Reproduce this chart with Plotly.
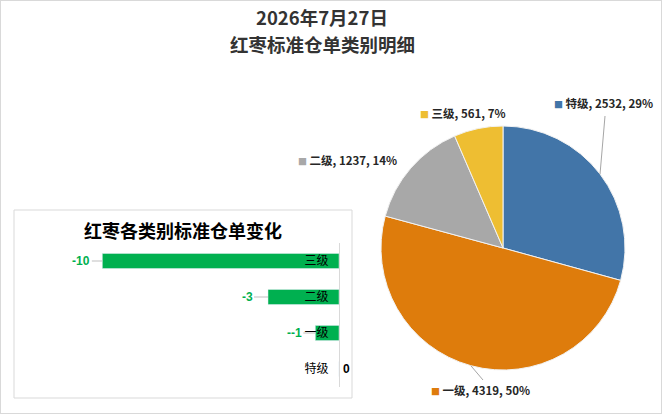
import math
import plotly.graph_objects as go

W, H = 662, 414

# pie data
pie_cats = ['特级', '一级', '二级', '三级']
pie_vals = [2532, 4319, 1237, 561]
pie_pcts = ['29%', '50%', '14%', '7%']
pie_colors = ['#4275A8', '#DE7C0C', '#A8A8A8', '#EEBE32']

# bar data (top to bottom)
bar_cats = ['三级', '二级', '一级', '特级']
bar_vals = [-10, -3, -1, 0]
bar_texts = ['-10', '-3', '--1', '0']

title_lines = ['2026年7月27日', '红枣标准仓单类别明细']
inset_title = '红枣各类别标准仓单变化'

FONT = 'Noto Sans CJK SC'
GREEN = '#00B050'


def px(x):
    return x / W


def py(y):
    return 1 - y / H


fig = go.Figure()

# pie: centre (503, 248), radius 122 in pixels
cx, cy, r = 503, 248, 122
fig.add_trace(go.Pie(
    labels=pie_cats, values=pie_vals, sort=False, direction='clockwise',
    marker=dict(colors=pie_colors, line=dict(color='#F2F2F2', width=1)),
    textinfo='none', hoverinfo='label+value+percent', showlegend=False,
    domain=dict(x=[px(cx - r), px(cx + r)], y=[py(cy + r), py(cy - r)]),
))

# bars
fig.add_trace(go.Bar(
    x=bar_vals, y=bar_cats, orientation='h', marker_color=GREEN,
    width=0.42, showlegend=False, hoverinfo='x+y',
))

fig.update_layout(
    width=W, height=H, margin=dict(l=0, r=0, t=0, b=0),
    paper_bgcolor='white', plot_bgcolor='white',
    font=dict(family=FONT, color='#000000'),
    xaxis=dict(domain=[px(55), px(339)], range=[-12, 0], showgrid=False,
               zeroline=False, showticklabels=False, showline=False, fixedrange=True),
    yaxis=dict(domain=[py(387), py(243)], side='right', showline=True,
               linecolor='#D9D9D9', linewidth=1, ticks='', showgrid=False,
               ticklabelposition='inside', ticklabelstandoff=10,
               categoryorder='array', categoryarray=bar_cats, autorange='reversed',
               tickfont=dict(size=12, color='#000000', family=FONT)),
)

ann = []
# main title, one annotation per line
for line, ty in zip(title_lines, [17, 44]):
    ann.append(dict(x=px(322), y=py(ty), xref='paper', yref='paper', showarrow=False,
                    xanchor='center', yanchor='middle', text=f'<b>{line}</b>',
                    font=dict(size=18.5, color='#333333', family=FONT)))
# inset title
ann.append(dict(x=px(183), y=py(230), xref='paper', yref='paper', showarrow=False,
                xanchor='center', yanchor='middle', text=f'<b>{inset_title}</b>',
                font=dict(size=18, color='#000000', family=FONT)))

# bar data labels
for c, v, t in zip(bar_cats, bar_vals, bar_texts):
    if v < 0:
        ann.append(dict(x=v, y=c, xref='x', yref='y', text=f'<b>{t}</b>', showarrow=True,
                        ax=-21, ay=0, arrowhead=0, arrowwidth=1, arrowcolor='#BFBFBF',
                        standoff=0, font=dict(size=12, color=GREEN, family='Liberation Sans')))
    else:
        ann.append(dict(x=v, y=c, xref='x', yref='y', text=f'<b>{t}</b>', showarrow=False,
                        xanchor='left', xshift=2,
                        font=dict(size=12, color='#000000', family='Liberation Sans')))

# pie labels (left edge x, centre y)
label_pos = {'特级': (552, 103), '三级': (418, 113), '二级': (296, 160), '一级': (429, 390)}
for c, v, p, col in zip(pie_cats, pie_vals, pie_pcts, pie_colors):
    lx, ly = label_pos[c]
    ann.append(dict(x=px(lx), y=py(ly), xref='paper', yref='paper', showarrow=False,
                    xanchor='left', yanchor='middle',
                    text=f"<span style='color:{col};font-size:9px'>■</span> <b>{c}, {v}, {p}</b>",
                    font=dict(size=11.5, color='#262626', family=FONT)))

fig.update_layout(annotations=ann)

# leader lines from slice edge to label
total = sum(pie_vals)
leader_end = {'特级': (605, 116), '一级': (483, 380)}
cum = 0
for c, v in zip(pie_cats, pie_vals):
    mid = (cum + v / 2) / total * 2 * math.pi
    cum += v
    if c in leader_end:
        ex, ey = cx + r * math.sin(mid), cy - r * math.cos(mid)
        lx, ly = leader_end[c]
        fig.add_shape(type='line', xref='paper', yref='paper',
                      x0=px(ex), y0=py(ey), x1=px(lx), y1=py(ly),
                      line=dict(color='#A6A6A6', width=1))

# inset frame and outer border
fig.add_shape(type='rect', xref='paper', yref='paper', layer='below',
              x0=px(14), x1=px(352), y0=py(398), y1=py(210),
              line=dict(color='#D9D9D9', width=1))
fig.add_shape(type='rect', xref='paper', yref='paper',
              x0=0, x1=1, y0=0, y1=1, line=dict(color='#D9D9D9', width=2))

fig.write_html("out.html", config={'displayModeBar': False},
               post_script="document.body.style.margin='0';")
